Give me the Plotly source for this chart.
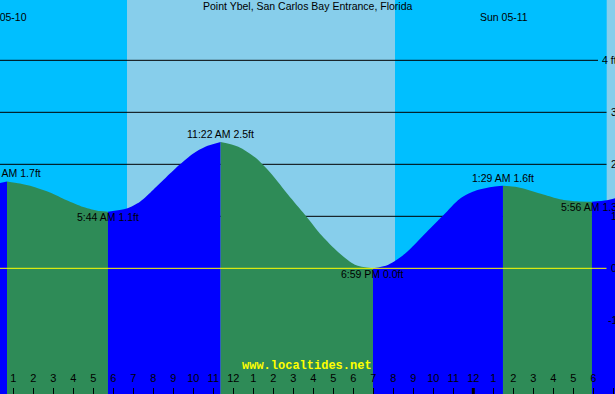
import plotly.graph_objects as go

# ---------------- data (hours since midnight, Sat 05-10) ----------------
tide_hours = [0.30, 0.685, 1.335, 2.0, 2.835, 3.67, 4.5, 5.335, 5.733, 6.67, 7.335,
              8.0, 8.67, 9.335, 10.0, 10.6, 11.367, 12.25, 13.1, 13.92, 14.75, 15.58,
              16.42, 17.25, 18.08, 18.983, 19.75, 20.58, 21.67, 22.5, 23.33, 24.17,
              25.0, 25.483, 26.33, 27.5, 28.33, 29.17, 29.933, 30.67, 31.1]
tide_ft = [1.64, 1.67, 1.63, 1.57, 1.46, 1.31, 1.18, 1.10, 1.09, 1.15, 1.28,
           1.51, 1.76, 2.00, 2.21, 2.34, 2.43, 2.34, 2.13, 1.81, 1.41, 1.03,
           0.63, 0.31, 0.07, 0.00, 0.07, 0.28, 0.70, 1.02, 1.34, 1.50,
           1.57, 1.59, 1.55, 1.42, 1.33, 1.29, 1.28, 1.31, 1.35]

ext_hours = [0.685, 5.733, 11.367, 18.983, 25.483, 29.933]
ext_ft = [1.67, 1.09, 2.43, 0.00, 1.59, 1.28]
ext_kind = ["H", "L", "H", "L", "H", "L"]
ext_labels = ["12:41 AM 1.7ft", "5:44 AM 1.1ft", "11:22 AM 2.5ft",
              "6:59 PM 0.0ft", "1:29 AM 1.6ft", "5:56 AM 1.3ft"]

day_start = [6.685, 30.67]
day_end = [20.085, 31.5]

date_hours = [0.535, 25.51]
date_labels = ["Sat 05-10", "Sun 05-11"]

tick_hours = list(range(1, 32))
tick_text = ["1", "2", "3", "4", "5", "6", "7", "8", "9", "10", "11", "12",
             "1", "2", "3", "4", "5", "6", "7", "8", "9", "10", "11", "12",
             "1", "2", "3", "4", "5", "6", "7"]
midnight_hours = [24]

grid_ft = [4, 3, 2, 1]
grid_end = [598 / 615, 606.5 / 615, 606.5 / 615, 606.5 / 615]
level_ft = [4, 3, 2, 1, 0, -1]
level_text = ["4 ft", "3", "2", "1", "0", "-1"]

title = "Point Ybel, San Carlos Bay Entrance, Florida"
site = "www.localtides.net"

# ---------------- styling ----------------
NIGHT = "#00BFFF"
DAY = "#87CEEB"
RISE = "#0000FF"
FALL = "#2E8B57"
FONT = "Liberation Sans, Arial, sans-serif"
X_RANGE = [0.335, 31.085]
Y_RANGE = [-2.417, 5.16]
FLOOR = -3.0

fig = go.Figure()

bounds = [tide_hours[0]] + ext_hours + [tide_hours[-1]]
for i in range(len(bounds) - 1):
    a, b = bounds[i], bounds[i + 1]
    xs = [t for t in tide_hours if a <= t <= b]
    ys = [v for t, v in zip(tide_hours, tide_ft) if a <= t <= b]
    color = RISE if ys[-1] > ys[0] else FALL
    fig.add_trace(go.Scatter(x=[a, b], y=[FLOOR, FLOOR], mode="lines",
                             line=dict(width=0, color=color), hoverinfo="skip",
                             showlegend=False))
    fig.add_trace(go.Scatter(x=xs, y=ys, mode="lines",
                             line=dict(width=0, color=color, shape="spline", smoothing=0.8),
                             fill="tonexty", fillcolor=color, hoverinfo="skip",
                             showlegend=False))

shapes = []
for s, e in zip(day_start, day_end):
    shapes.append(dict(type="rect", xref="x", yref="paper", x0=s, x1=e, y0=0, y1=1,
                       fillcolor=DAY, line=dict(width=0), layer="below"))
for g, xe in zip(grid_ft, grid_end):
    shapes.append(dict(type="line", xref="paper", yref="y", x0=0, x1=xe, y0=g, y1=g,
                       line=dict(color="black", width=1), layer="below"))
shapes.append(dict(type="line", xref="paper", yref="y", x0=0, x1=606.5 / 615, y0=0, y1=0,
                   line=dict(color="#FFFF00", width=1), layer="above"))
for m in midnight_hours:
    shapes.append(dict(type="line", xref="x", yref="paper", x0=m, x1=m, y0=0, y1=6 / 394,
                       line=dict(color="black", width=3), layer="above"))

ann = []
ann.append(dict(text=title, xref="paper", yref="paper", x=0.5, y=1 - 5.5 / 394,
                xanchor="center", yanchor="middle", showarrow=False,
                font=dict(family=FONT, size=10.5, color="black")))
for t, lab in zip(date_hours, date_labels):
    ann.append(dict(text=lab, xref="x", yref="paper", x=t, y=1 - 16.5 / 394,
                    xanchor="center", yanchor="middle", showarrow=False,
                    font=dict(family=FONT, size=10.5, color="black")))
for t, v, k, lab in zip(ext_hours, ext_ft, ext_kind, ext_labels):
    ann.append(dict(text=lab, xref="x", yref="y", x=t, y=v, xanchor="center",
                    yanchor="middle", yshift=8 if k == "H" else -5.5, showarrow=False,
                    font=dict(family=FONT, size=10.5, color="black")))
for v, lab in zip(level_ft, level_text):
    ann.append(dict(text=lab, xref="paper", yref="y", x=1, y=v, xanchor="right",
                    yanchor="middle", xshift=3.5, showarrow=False,
                    font=dict(family=FONT, size=10.5, color="black")))
ann.append(dict(text="<b>" + site + "</b>", xref="paper", yref="paper", x=306.7 / 615,
                y=1 - 366 / 394, xanchor="center", yanchor="middle", showarrow=False,
                font=dict(family="Liberation Mono, Courier New, monospace", size=12,
                          color="#FFFF00")))

fig.update_layout(
    width=615, height=394,
    margin=dict(l=0, r=0, t=0, b=0),
    paper_bgcolor=NIGHT, plot_bgcolor=NIGHT,
    showlegend=False,
    shapes=shapes, annotations=ann,
    xaxis=dict(range=X_RANGE, tickvals=tick_hours, ticktext=tick_text,
               ticks="inside", ticklen=6, tickwidth=1, tickcolor="black",
               ticklabelposition="inside", ticklabelstandoff=3,
               showgrid=False, zeroline=False,
               showline=False, fixedrange=True,
               tickfont=dict(family=FONT, size=11, color="black")),
    yaxis=dict(range=Y_RANGE, showgrid=False, zeroline=False, showticklabels=False,
               ticks="", showline=False, fixedrange=True),
)

fig.write_html("out.html", config={"displayModeBar": False},
               post_script="document.body.style.margin='0';document.body.style.overflow='hidden';")
